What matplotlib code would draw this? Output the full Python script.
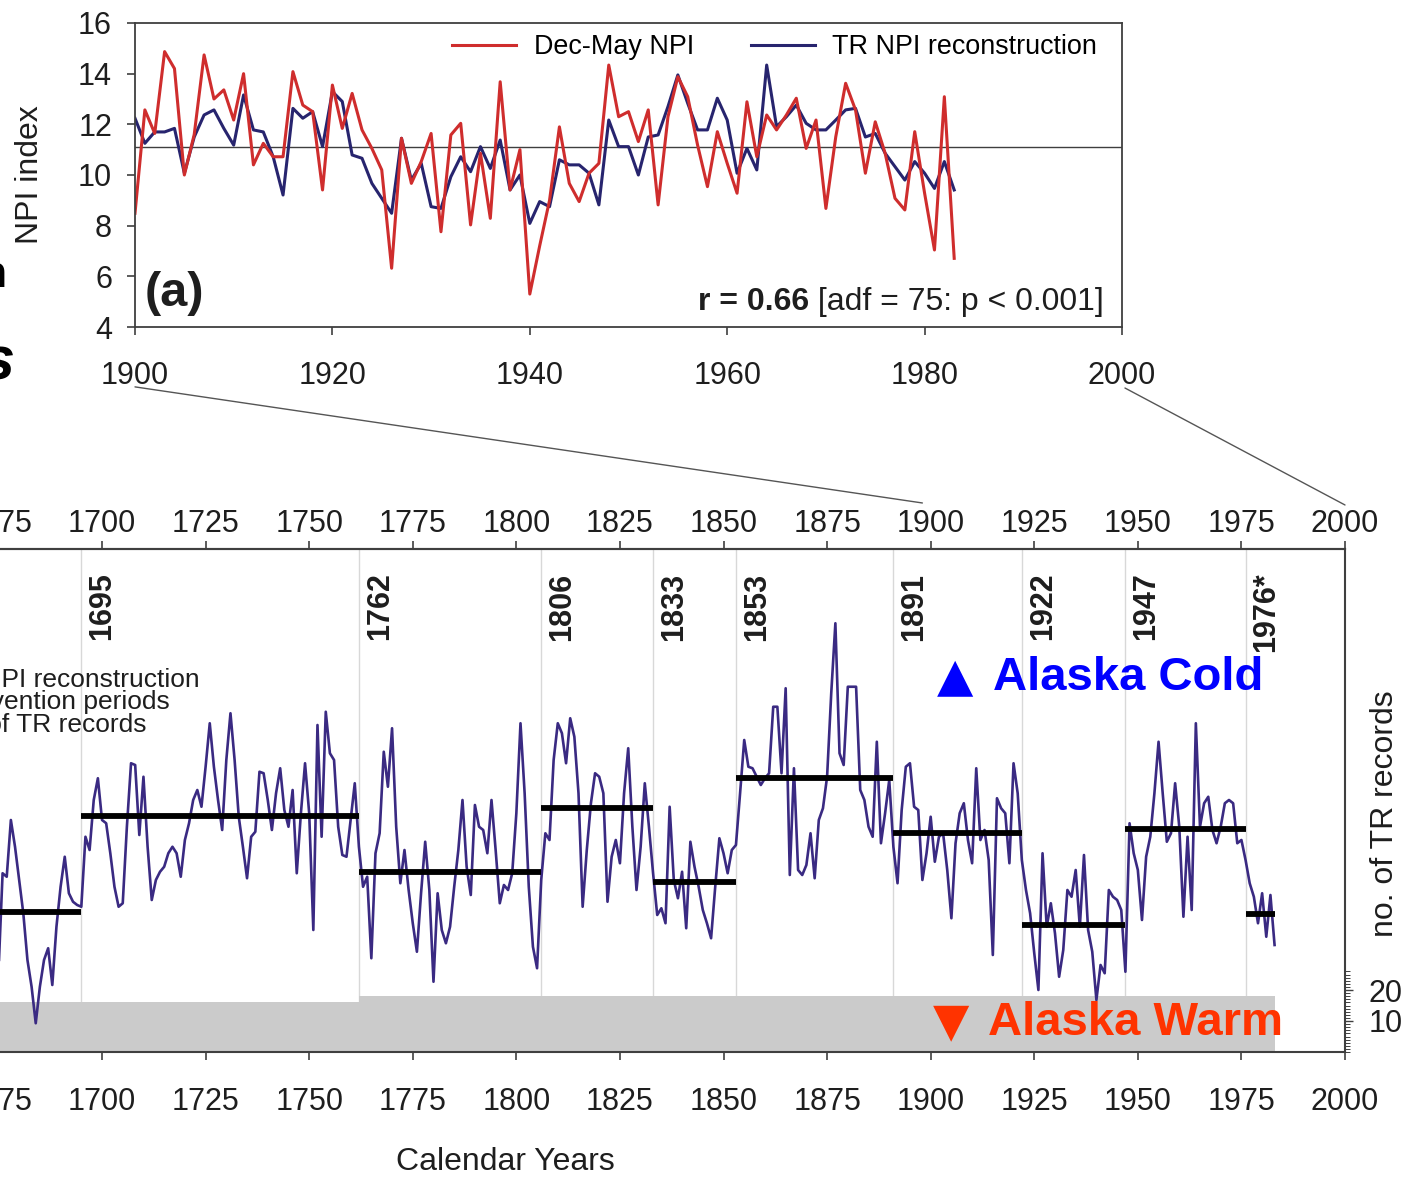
import numpy as np
import matplotlib
matplotlib.use('Agg')
import matplotlib.pyplot as plt
from matplotlib.patches import ConnectionPatch
from matplotlib.ticker import FixedLocator
from matplotlib import font_manager as fm

plt.rcParams['font.family'] = ['Liberation Sans', 'DejaVu Sans']

W, H = 1412, 1181

# ---------------- panel (a): instrumental vs tree-ring NPI ----------------
years_a = np.arange(1900, 1984)
npi_decmay = [8.49, 12.57, 11.64, 14.87, 14.2, 10.0, 11.6, 14.74, 13.0, 13.36,
              12.17, 14.0, 10.4, 11.25, 10.72, 10.72, 14.08, 12.76, 12.5, 9.41,
              13.55, 11.84, 13.22, 11.78, 11.05, 10.2, 6.32, 11.45, 9.67, 10.53,
              11.64, 7.76, 11.58, 12.04, 8.03, 10.86, 8.29, 13.68, 9.41, 11.0,
              5.3, 7.2, 9.0, 11.9, 9.67, 8.95, 10.07, 10.46, 14.34, 12.3,
              12.5, 11.32, 12.57, 8.82, 12.3, 13.88, 13.09, 11.18, 9.54, 11.71,
              10.46, 9.28, 12.89, 10.72, 12.37, 11.78, 12.37, 13.03, 11.05, 12.17,
              8.68, 11.51, 13.62, 12.57, 10.07, 12.1, 10.86, 9.08, 8.62, 11.71,
              9.28, 7.04, 13.09, 6.71]
npi_tr = [12.24, 11.25, 11.7, 11.7, 11.84, 10.07, 11.5, 12.37, 12.57, 11.84,
          11.18, 13.16, 11.78, 11.7, 10.72, 9.21, 12.63, 12.24, 12.5, 11.12,
          13.29, 12.9, 10.79, 10.66, 9.67, 9.08, 8.49, 11.45, 9.8, 10.46,
          8.75, 8.68, 9.93, 10.72, 10.13, 11.12, 10.26, 11.38, 9.41, 10.0,
          8.09, 8.95, 8.75, 10.6, 10.4, 10.4, 10.07, 8.82, 12.17, 11.12,
          11.12, 10.0, 11.5, 11.58, 12.7, 13.95, 12.83, 11.78, 11.78, 13.03,
          12.17, 10.07, 11.05, 10.2, 14.34, 11.91, 12.3, 12.76, 12.04, 11.78,
          11.78, 12.17, 12.57, 12.63, 11.5, 11.64, 10.86, 10.33, 9.8, 10.53,
          10.07, 9.47, 10.53, 9.41]
npi_mean = 11.1

# ---------------- panel (b): long TR reconstruction ----------------
years_b = np.arange(1675, 1984)
recon = [6.87, 10.87, 10.73, 13.0, 11.93, 10.6, 9.27, 7.4, 6.33, 4.87,        # 1675
         6.33, 7.4, 7.87, 6.4, 8.73, 10.33, 11.53, 10.07, 9.73, 9.6,          # 1685
         9.53, 12.33, 11.8, 13.8, 14.67, 13.0, 12.87, 11.67, 10.33, 9.53,     # 1695
         9.67, 12.73, 15.27, 15.2, 12.4, 14.73, 11.93, 9.8, 10.6, 10.93,      # 1705
         11.13, 11.67, 11.93, 11.67, 10.73, 12.2, 12.87, 13.8, 14.2, 13.53,   # 1715
         15.13, 16.87, 15.13, 13.8, 12.6, 15.4, 17.27, 15.4, 13.13, 11.93,    # 1725
         10.67, 12.33, 12.53, 14.93, 14.87, 13.8, 12.6, 14.07, 15.07, 13.4,   # 1735
         12.73, 14.2, 10.87, 13.27, 15.27, 13.27, 8.6, 16.8, 12.33, 17.33,    # 1745
         15.67, 15.4, 12.73, 11.6, 11.53, 13.0, 14.47, 11.93, 10.33, 10.73,   # 1755
         7.47, 11.67, 12.47, 15.73, 14.33, 16.67, 12.73, 10.47, 11.8, 10.2,   # 1765
         8.87, 7.73, 10.07, 12.13, 10.2, 6.53, 10.07, 8.6, 8.07, 8.73,        # 1775
         10.33, 11.8, 13.8, 11.13, 10.0, 13.6, 12.73, 12.6, 11.67, 13.8,      # 1785
         11.8, 9.67, 10.4, 10.2, 10.87, 13.27, 16.87, 14.07, 10.33, 7.93,     # 1795
         7.07, 10.6, 12.47, 12.2, 15.4, 16.87, 16.47, 15.27, 17.07, 16.33,    # 1805
         14.07, 9.53, 11.8, 13.67, 14.87, 14.73, 14.07, 9.73, 11.53, 12.2,    # 1815
         11.27, 14.07, 15.87, 12.73, 10.2, 11.93, 14.47, 12.73, 10.87, 9.2,   # 1825
         9.47, 8.87, 13.53, 10.6, 9.87, 10.93, 8.67, 12.13, 11.13, 10.33,     # 1835
         9.4, 8.87, 8.27, 10.33, 12.27, 11.67, 10.87, 11.8, 12.0, 14.07,      # 1845
         16.2, 15.13, 15.07, 14.73, 14.4, 14.67, 14.87, 17.53, 17.53, 14.87,  # 1855
         18.27, 10.8, 15.07, 11.0, 10.8, 11.2, 12.47, 10.67, 13.0, 13.47,     # 1865
         14.73, 18.07, 20.87, 15.67, 15.2, 18.33, 18.33, 18.33, 14.2, 13.8,   # 1875
         12.73, 12.33, 16.13, 12.07, 13.27, 14.6, 11.93, 10.47, 13.4, 15.13,  # 1885
         15.27, 13.53, 13.4, 10.6, 11.67, 13.13, 11.33, 12.33, 12.47, 11.0,   # 1895
         9.07, 12.07, 13.27, 13.67, 12.2, 11.27, 15.07, 12.2, 12.6, 11.4,     # 1905
         7.6, 13.87, 13.47, 13.27, 11.27, 15.27, 14.07, 11.4, 10.2, 9.27,     # 1915
         7.67, 6.2, 11.67, 8.73, 9.67, 8.47, 6.73, 7.8, 10.2, 9.93,           # 1925
         11.0, 8.73, 11.6, 8.6, 7.73, 5.8, 7.2, 6.87, 10.2, 9.93,             # 1935
         9.8, 9.4, 6.93, 12.87, 11.67, 11.0, 9.0, 11.53, 12.33, 14.07,        # 1945
         16.13, 14.07, 12.13, 12.47, 14.47, 12.73, 9.13, 12.33, 9.4, 16.87,   # 1955
         12.73, 13.67, 13.93, 12.6, 12.07, 12.73, 13.67, 13.8, 13.67, 12.07,  # 1965
         12.2, 11.4, 10.47, 9.93, 8.87, 10.07, 8.33, 10.0, 8.0]               # 1975
assert len(recon) == len(years_b)

shift_years = [1695, 1762, 1806, 1833, 1853, 1891, 1922, 1947, 1976]
shift_labels = ['1695', '1762', '1806', '1833', '1853', '1891', '1922', '1947', '1976*']
regime_start = [1675] + shift_years
regime_end = shift_years + [1983]
regime_mean = [9.33, 13.16, 10.93, 13.49, 10.51, 14.67, 12.5, 8.8, 12.63, 9.24]

tr_years = [1675, 1762, 1983]
tr_count = [16, 18, 18]

RED = '#cf2d2d'
NAVY = '#27246e'
PURPLE = '#3a2a82'
DARK = '#3f3f3f'
TXT = '#1e1e1e'


def box(l, t, r, b):
    # pixel box -> figure fraction
    return [l / W, 1 - b / H, (r - l) / W, (b - t) / H]


def has_font(name):
    try:
        fm.findfont(fm.FontProperties(family=name, weight='bold'), fallback_to_default=False)
        return True
    except ValueError:
        return False


if has_font('Liberation Sans Narrow'):
    shift_font = dict(family='Liberation Sans Narrow', fontsize=25)
else:
    shift_font = dict(family='Liberation Sans', fontsize=22)

fig = plt.figure(figsize=(W / 100, H / 100), dpi=100)
fig.patch.set_facecolor('white')

# ================= panel (a) =================
ax_a = fig.add_axes(box(135, 23, 1122, 327))
ln_tr, = ax_a.plot(years_a, npi_tr, color=NAVY, lw=2.2)
ln_obs, = ax_a.plot(years_a, npi_decmay, color=RED, lw=2.2)
ax_a.axhline(npi_mean, color=DARK, lw=1.0, zorder=1)
ax_a.set_xlim(1900, 2000)
ax_a.set_ylim(4, 16)
ax_a.set_xticks(range(1900, 2001, 20))
ax_a.set_yticks(range(4, 17, 2))
for s in ax_a.spines.values():
    s.set_color(DARK)
    s.set_linewidth(1.3)
ax_a.tick_params(direction='out', length=6, width=1.2, color=DARK, labelsize=22, labelcolor=TXT)
ax_a.tick_params(axis='x', pad=18.5)
ax_a.tick_params(axis='y', pad=10.5)
ax_a.set_ylabel('NPI index', fontsize=23, color=TXT)
ax_a.yaxis.set_label_coords(-0.091, 0.5)

ax_a.legend([ln_obs, ln_tr], ['Dec-May NPI', 'TR NPI reconstruction'], ncol=2, frameon=False,
            loc='center right', bbox_to_anchor=(0.975, 0.921), borderaxespad=0, borderpad=0,
            handlelength=2.4, handletextpad=0.64, columnspacing=2.1, fontsize=19.4)

ax_a.text(0.010, 0.1086, '(a)', transform=ax_a.transAxes, fontsize=35, fontweight='bold',
          va='center', ha='left', color=TXT)
t_stat = ax_a.text(0.9818, 0.056, ' [adf = 75: p < 0.001]', transform=ax_a.transAxes,
                   fontsize=23, ha='right', va='baseline', color=TXT)
ax_a.annotate('r = 0.66', xy=(0, 0), xycoords=t_stat, ha='right', va='bottom',
              fontsize=23, fontweight='bold', color=TXT)

# ================= panel (b) =================
ax_b = fig.add_axes(box(-312.3, 549, 1345, 1052))
axr = ax_b.twinx()
ax_b.set_zorder(2)
axr.set_zorder(1)
ax_b.patch.set_visible(False)

for yr in shift_years:
    axr.axvline(yr, color='#d8d8d8', lw=1.0, zorder=1)
axr.fill_between(tr_years, 0, tr_count, step='post', color='#cbcbcb', lw=0, zorder=2)
axr.set_ylim(0, 503 / 3.1)
axr.yaxis.set_major_locator(FixedLocator([10, 20]))
axr.yaxis.set_minor_locator(FixedLocator(list(range(0, 27))))
axr.tick_params(axis='y', which='major', direction='out', length=6, width=1.0, color=DARK,
                pad=11, labelsize=22, labelcolor=TXT)
axr.tick_params(axis='y', which='minor', direction='out', length=3.5, width=0.7, color=DARK)
for side in ['top', 'bottom', 'left']:
    axr.spines[side].set_visible(False)
axr.spines['right'].set_color(DARK)
axr.spines['right'].set_linewidth(1.5)
axr.set_ylabel('no. of TR records', fontsize=23, color=TXT)
axr.yaxis.set_label_coords(1.0151, 0.4732)

ax_b.plot(years_b, recon, color=PURPLE, lw=1.9, zorder=3)
ax_b.hlines(regime_mean, regime_start, regime_end, color='black', lw=4.2, zorder=4)

ax_b.set_xlim(1600, 2000)
ax_b.set_ylim(3.72, 23.84)
xt = list(range(1600, 2001, 25))
ax_b.set_xticks(xt)
ax_b.tick_params(axis='x', direction='out', length=6, width=1.2, color=DARK, pad=19.5,
                 labelsize=22, labelcolor=TXT)
ax_b.tick_params(axis='y', left=False, labelleft=False)
ax_b.spines['left'].set_visible(False)
ax_b.spines['right'].set_visible(False)
for side in ['top', 'bottom']:
    ax_b.spines[side].set_color(DARK)
    ax_b.spines[side].set_linewidth(1.5)

sec = ax_b.secondary_xaxis('top')
sec.set_xticks(xt)
sec.tick_params(direction='out', length=6, width=1.2, color=DARK, pad=1.5, labelsize=22,
                labelcolor=TXT)
sec.spines['top'].set_color(DARK)
sec.spines['top'].set_linewidth(1.5)

ax_b.set_xlabel('Calendar Years', fontsize=23, color=TXT)
ax_b.xaxis.set_label_coords(0.4932, -0.1889)

for yr, lab in zip(shift_years, shift_labels):
    ax_b.annotate(lab, xy=(yr, 1), xycoords=ax_b.get_xaxis_transform(),
                  xytext=(15, -17), textcoords='offset points', rotation=90,
                  ha='center', va='top', fontweight='bold', color=TXT, **shift_font)

# legend-like notes (partly cut by the left edge, as in the source image)
notes = ['TR NPI reconstruction', 'Intervention periods', 'No. of TR records']
note_x = [0.3091, 0.2910, 0.2771]
note_y = [0.7256, 0.6819, 0.6362]
for txt, nx, ny in zip(notes, note_x, note_y):
    ax_b.text(nx, ny, txt, transform=ax_b.transAxes, ha='right', va='baseline',
              fontsize=19, color=TXT)

# Alaska cold / warm annotations
ax_b.text(0.7647, 0.7197, '\u25B2', transform=ax_b.transAxes, ha='center', va='baseline',
          fontsize=34, color='#0000ff', family='DejaVu Sans')
ax_b.text(0.7876, 0.7197, 'Alaska Cold', transform=ax_b.transAxes, ha='left', va='baseline',
          fontsize=34, fontweight='bold', color='#0000ff')
ax_b.text(0.7623, 0.0338, '\u25BC', transform=ax_b.transAxes, ha='center', va='baseline',
          fontsize=34, color='#ff3300', family='DejaVu Sans', zorder=6)
ax_b.text(0.7846, 0.0338, 'Alaska Warm', transform=ax_b.transAxes, ha='left', va='baseline',
          fontsize=34, fontweight='bold', color='#ff3300', zorder=6)

# zoom connectors from panel (a) axis to panel (b) axis
for (xa, ya), (xb, yb) in [((1900, -0.197), (1898, 1.0915)), ((2000.3, -0.2007), (2000, 1.0875))]:
    con = ConnectionPatch(xyA=(xa, ya), coordsA=ax_a.get_xaxis_transform(),
                          xyB=(xb, yb), coordsB=ax_b.get_xaxis_transform(),
                          color='#555555', lw=1.0, zorder=5)
    fig.add_artist(con)

# remnants of slide title at the left edge
fig.text(7 / W, 1 - 287 / H, 'n', ha='right', va='baseline', fontsize=32, fontweight='bold',
         color='black')
fig.text(14 / W, 1 - 380 / H, 's', ha='right', va='baseline', fontsize=44, fontweight='bold',
         style='italic', color='black')

fig.savefig('out.png', dpi=100, facecolor='white')
